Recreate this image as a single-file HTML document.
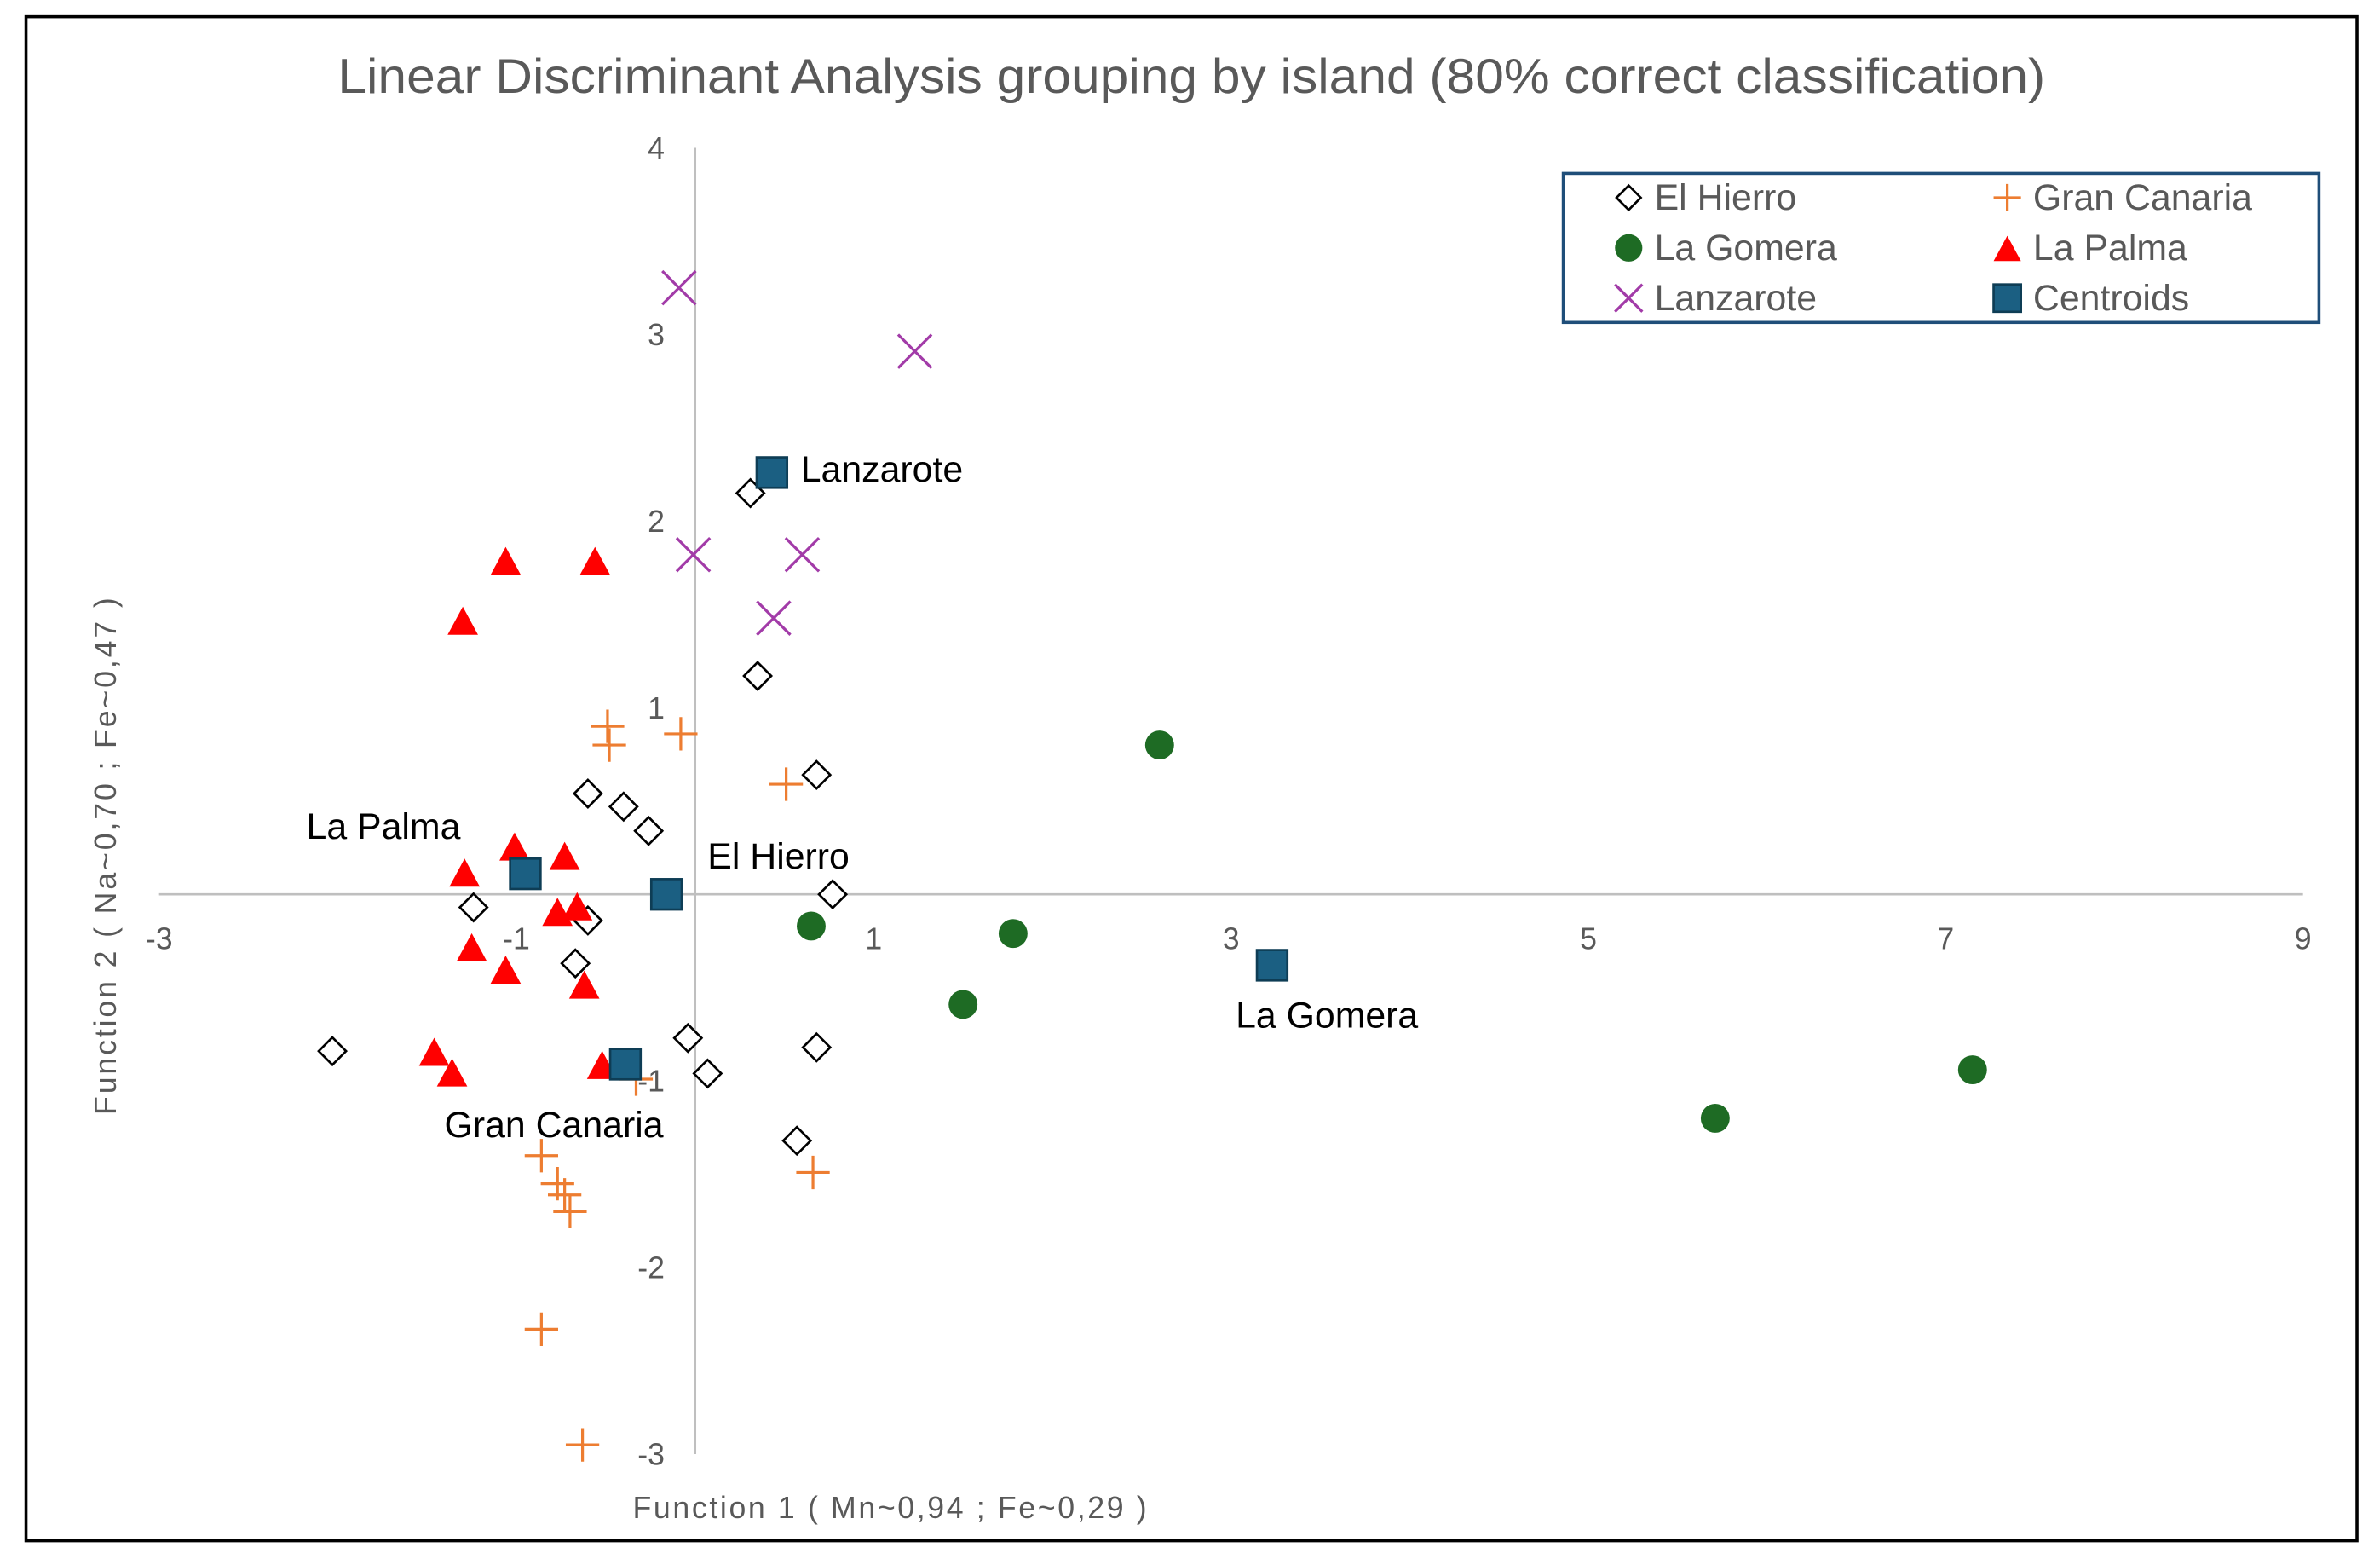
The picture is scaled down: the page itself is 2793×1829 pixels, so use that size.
<!DOCTYPE html>
<html><head><meta charset="utf-8"><style>
html,body{margin:0;padding:0;background:#fff;}
svg{display:block;font-family:"Liberation Sans",sans-serif;}
</style></head><body>
<svg id="chart" width="2793" height="1829" viewBox="0 0 1565 1025">
<rect x="17" y="11" width="1533" height="1002" fill="#fff" stroke="#000" stroke-width="2"/>
<text x="222" y="61" font-size="32" fill="#595959" textLength="1123" lengthAdjust="spacingAndGlyphs">Linear Discriminant Analysis grouping by island (80% correct classification)</text>
<g id="axes"></g>
<g id="marks"></g>
<text x="416" y="998" font-size="20" fill="#595959" textLength="338" lengthAdjust="spacing">Function 1    ( Mn~0,94 ; Fe~0,29 )</text>
<text transform="translate(76,733) rotate(-90)" font-size="20" fill="#595959" textLength="340" lengthAdjust="spacing">Function 2    ( Na~0,70 ; Fe~0,47 )</text>
<g>
<rect x="1028" y="114" width="497" height="98" fill="#fff" stroke="#1f4e79" stroke-width="2"/>
<g id="legend"></g>
</g>
</svg>
<script>
const xTicks=[-3,-1,1,3,5,7,9];
const yTicks=[4,3,2,1,-1,-2,-3];
const elHierroX=[0.31,0.35,0.68,-0.60,-0.40,-0.26,0.77,-1.24,-0.60,-0.67,-0.04,0.07,0.68,-2.03,0.57];
const elHierroY=[2.15,1.17,0.64,0.54,0.47,0.34,0.0,-0.07,-0.14,-0.37,-0.77,-0.96,-0.82,-0.84,-1.32];
const granCanariaX=[-0.49,-0.48,-0.08,0.51,-0.33,-0.86,-0.77,-0.73,-0.70,0.66,-0.86,-0.63];
const granCanariaY=[0.90,0.80,0.86,0.59,-0.99,-1.40,-1.55,-1.61,-1.70,-1.49,-2.33,-2.95];
const laGomeraX=[2.60,0.65,1.78,1.50,5.71,7.15];
const laGomeraY=[0.80,-0.17,-0.21,-0.59,-1.20,-0.94];
const laPalmaX=[-1.06,-0.56,-1.30,-1.01,-0.73,-1.29,-0.66,-0.77,-1.25,-1.06,-0.62,-1.46,-1.36,-0.52];
const laPalmaY=[1.78,1.78,1.46,0.25,0.20,0.11,-0.07,-0.10,-0.29,-0.41,-0.49,-0.85,-0.96,-0.92];
const lanzaroteX=[-0.09,1.23,-0.01,0.60,0.44];
const lanzaroteY=[3.25,2.91,1.82,1.82,1.48];
const centroidNames=["Lanzarote","La Palma","El Hierro","Gran Canaria","La Gomera"];
const centroidX=[0.43,-0.95,-0.16,-0.39,3.23];
const centroidY=[2.26,0.11,0.0,-0.91,-0.38];

const NS="http://www.w3.org/2000/svg";
const X0=457,XU=117.5,Y0=588,YU=122.7;
const sx=v=>X0+v*XU, sy=v=>Y0-v*YU;
function mk(tag,attrs,parent,text){const e=document.createElementNS(NS,tag);for(const k in attrs)e.setAttribute(k,attrs[k]);if(text!==undefined)e.textContent=text;parent.appendChild(e);return e;}
const axes=document.getElementById('axes'),marks=document.getElementById('marks'),leg=document.getElementById('legend');
let a=mk('line',{x1:sx(-3),x2:sx(9),y1:sy(0),y2:sy(0),stroke:'#bfbfbf','stroke-width':1.5},axes);


a=mk('line',{x1:sx(0),x2:sx(0),y1:sy(4),y2:sy(-3),stroke:'#bfbfbf','stroke-width':1.5},axes);


xTicks.forEach(t=>{const e=mk('text',{x:sx(t),y:sy(0)+36,'text-anchor':'middle','font-size':20,fill:'#595959'},axes,String(t));

});
yTicks.forEach(t=>{const e=mk('text',{x:sx(0)-20,y:sy(t)+7,'text-anchor':'end','font-size':20,fill:'#595959'},axes,String(t));

});

function diamond(x,y,p){return mk('path',{d:`M${x} ${y-9}L${x+9} ${y}L${x} ${y+9}L${x-9} ${y}Z`,fill:'#fff',stroke:'#000','stroke-width':1.5},p);}
function plus(x,y,p,s=11){return mk('path',{d:`M${x-s} ${y}H${x+s}M${x} ${y-s}V${y+s}`,stroke:'#ed7d31','stroke-width':1.8,fill:'none'},p);}
function dot(x,y,p,r=9.5){return mk('circle',{cx:x,cy:y,r:r,fill:'#1e6b24'},p);}
function tri(x,y,p,s=10){return mk('path',{d:`M${x} ${y-s}L${x+s} ${y+s*0.85}L${x-s} ${y+s*0.85}Z`,fill:'#ff0000'},p);}
function cross(x,y,p,s=11){return mk('path',{d:`M${x-s} ${y-s}L${x+s} ${y+s}M${x+s} ${y-s}L${x-s} ${y+s}`,stroke:'#a23ba8','stroke-width':1.8,fill:'none'},p);}
function sq(x,y,p,s=10){return mk('rect',{x:x-s,y:y-s,width:2*s,height:2*s,fill:'#1b5f82',stroke:'#0e3d55','stroke-width':1.5},p);}

elHierroX.forEach((v,i)=>{const e=diamond(sx(v),sy(elHierroY[i]),marks);

});
granCanariaX.forEach((v,i)=>{const e=plus(sx(v),sy(granCanariaY[i]),marks);

});
laGomeraX.forEach((v,i)=>{const e=dot(sx(v),sy(laGomeraY[i]),marks);

});
laPalmaX.forEach((v,i)=>{const e=tri(sx(v),sy(laPalmaY[i]),marks);

});
lanzaroteX.forEach((v,i)=>{const e=cross(sx(v),sy(lanzaroteY[i]),marks);

});
const labelOff=[[19,4],[-144,-25],[27,-19],[-119,46],[-24,39]];
centroidX.forEach((v,i)=>{const x=sx(v),y=sy(centroidY[i]);const e=sq(x,y,marks);


const t=mk('text',{x:x+labelOff[i][0],y:y+labelOff[i][1]+2,'font-size':24,fill:'#000'},marks,centroidNames[i]);

});

const legItems=[['El Hierro',diamond,1071,130],['Gran Canaria',plus,1320,130],['La Gomera',dot,1071,163],['La Palma',tri,1320,163],['Lanzarote',cross,1071,196],['Centroids',sq,1320,196]];
legItems.forEach(it=>{let m;
if(it[1]===diamond)m=mk('path',{d:`M${it[2]} ${it[3]-8}L${it[2]+8} ${it[3]}L${it[2]} ${it[3]+8}L${it[2]-8} ${it[3]}Z`,fill:'#fff',stroke:'#000','stroke-width':1.5},leg);
else if(it[1]===plus)m=plus(it[2],it[3],leg,9);
else if(it[1]===dot)m=dot(it[2],it[3],leg,9);
else if(it[1]===tri)m=tri(it[2],it[3]+1,leg,9);
else if(it[1]===cross)m=cross(it[2],it[3],leg,9);
else m=sq(it[2],it[3],leg,9);


const t=mk('text',{x:it[2]+17,y:it[3]+8,'font-size':24,fill:'#595959'},leg,it[0]);

});
</script>
</body></html>
